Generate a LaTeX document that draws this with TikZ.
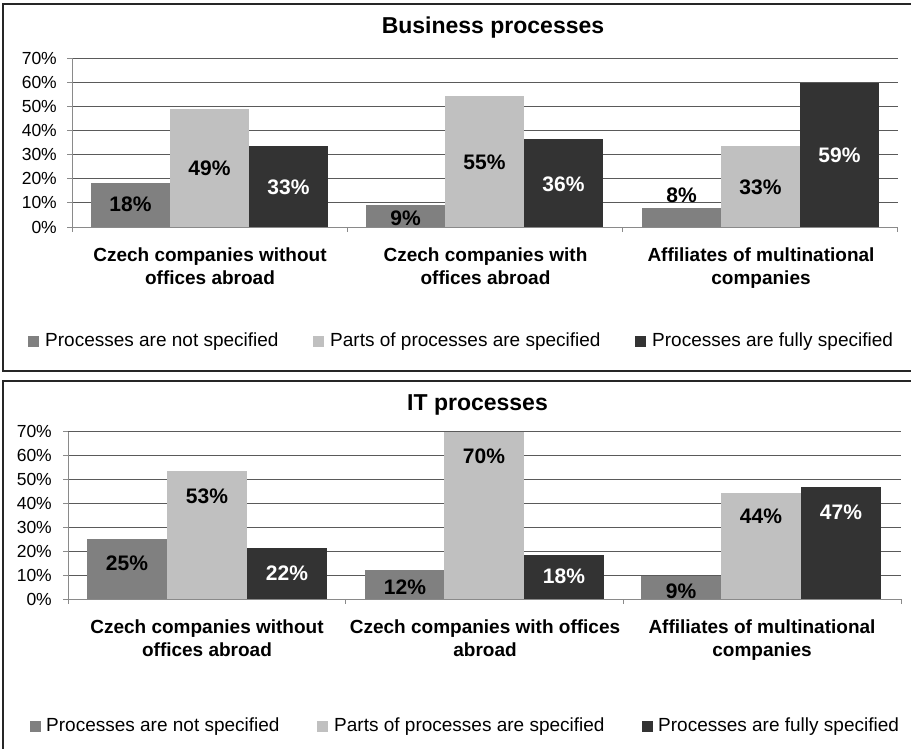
\documentclass[tikz,border=0pt]{standalone}
\usepackage{fontspec}
\setmainfont{Liberation Sans}
\usetikzlibrary{calc}

\definecolor{barA}{HTML}{808080}
\definecolor{barB}{HTML}{C0C0C0}
\definecolor{barC}{HTML}{333333}
\definecolor{gridcol}{HTML}{5A5A5A}
\definecolor{axiscol}{HTML}{8A8A8A}
\definecolor{framecol}{HTML}{262626}

\def\TopX{72}
\def\TopY{227}
\def\TopEnd{898}
\def\TopStep{24.1}
\def\TopCat{275.33}
\def\TopW{79}
\def\BotX{68}
\def\BotY{599}
\def\BotEnd{901}
\def\BotStep{23.9}
\def\BotCat{277.67}
\def\BotW{80}

\tikzset{
  frameline/.style={draw=framecol,line width=2pt},
  gridline/.style={draw=gridcol,line width=0.9pt},
  axisline/.style={draw=axiscol,line width=1pt},
  ticklab/.style={anchor=east,inner sep=0pt,font=\fontsize{17.5}{18}\selectfont},
  titlelab/.style={anchor=base,inner sep=0pt,font=\bfseries\fontsize{23}{24}\selectfont},
  catlab/.style={anchor=north,align=center,inner sep=0pt,font=\bfseries\fontsize{19}{23.5}\selectfont},
  vallab/.style={inner sep=0pt,font=\bfseries\fontsize{21}{22}\selectfont},
  legbox/.style={anchor=south west,minimum size=11pt,inner sep=0pt},
  leglab/.style={anchor=base west,inner sep=0pt,font=\fontsize{19}{20}\selectfont},
}

\begin{document}
\begin{tikzpicture}[x=1pt,y=-1pt]
\useasboundingbox (0,0) rectangle (911,749);
\fill[white] (0,0) rectangle (911,749);

% ---- Business processes
\draw[frameline] (913,4) -- (3,4) -- (3,371) -- (913,371);
\node[titlelab] (toptitle) at (493,33.3) {Business processes};
\foreach \g [evaluate=\g as \p using int(\g*10)] in {1,...,7}
  \draw[gridline] (\TopX,\TopY-\g*\TopStep) -- (\TopEnd,\TopY-\g*\TopStep);
\foreach \bx/\bh/\bl/\ly/\bc/\tc [count=\k] in {
    91/18.3/18/204/barA/black, 170/49/49/168/barB/black, 249/33.5/33/187/barC/white,
    366/9/9/218/barA/black, 445/54.5/55/162/barB/black, 524/36.5/36/184/barC/white,
    642/7.8/8/195/barA/black, 721/33.5/33/187/barB/black, 800/59.8/59/155/barC/white}
{
  \fill[\bc] (\bx,\TopY) rectangle ++(\TopW,-\bh*\TopStep/10);
  \node[vallab,text=\tc] (topval\k) at (\bx+\TopW/2,\ly) {\bl\%};
}
\draw[axisline] (\TopX,\TopY-7*\TopStep) -- (\TopX,\TopY) -- (\TopEnd,\TopY);
\foreach \g [evaluate=\g as \p using int(\g*10)] in {0,...,7}{
  \draw[axisline] (\TopX-5,\TopY-\g*\TopStep) -- (\TopX,\TopY-\g*\TopStep);
  \node[ticklab] (topytick\g) at (57,\TopY-\g*\TopStep) {\p\%};
}
\foreach \c in {0,...,3}
  \draw[axisline] (\TopX+\c*\TopCat,\TopY) -- (\TopX+\c*\TopCat,\TopY+5);
\node[catlab] (topcatA) at (210,247.5) {Czech companies without\\offices abroad};
\node[catlab] (topcatB) at (485.5,247.5) {Czech companies with\\offices abroad};
\node[catlab] (topcatC) at (761,247.5) {Affiliates of multinational\\companies};
% legend
\node[legbox,fill=barA] (topkeyA) at (28,346.7) {};
\node[leglab] (toplegA) at (45,346.7) {Processes are not specified};
\node[legbox,fill=barB] (topkeyB) at (313,346.7) {};
\node[leglab] (toplegB) at (330,346.7) {Parts of processes are specified};
\node[legbox,fill=barC] (topkeyC) at (635,346.7) {};
\node[leglab] (toplegC) at (652,346.7) {Processes are fully specified};

% ---- IT processes
\draw[frameline] (913,381) -- (3,381) -- (3,751);
\node[titlelab] (bottitle) at (477.5,410) {IT processes};
\foreach \g in {1,...,7}
  \draw[gridline] (\BotX,\BotY-\g*\BotStep) -- (\BotEnd,\BotY-\g*\BotStep);
\foreach \bx/\bh/\bl/\ly/\bc/\tc [count=\k] in {
    87/25.1/25/563/barA/black, 167/53.6/53/496/barB/black, 247/21.3/22/573/barC/white,
    365/12.1/12/587/barA/black, 444/70/70/456/barB/black, 524/18.4/18/576/barC/white,
    641/9.6/9/591/barA/black, 721/44.4/44/516/barB/black, 801/46.9/47/512/barC/white}
{
  \fill[\bc] (\bx,\BotY) rectangle ++(\BotW,-\bh*\BotStep/10);
  \node[vallab,text=\tc] (botval\k) at (\bx+\BotW/2,\ly) {\bl\%};
}
\draw[axisline] (\BotX,\BotY-7*\BotStep) -- (\BotX,\BotY) -- (\BotEnd,\BotY);
\foreach \g [evaluate=\g as \p using int(\g*10)] in {0,...,7}{
  \draw[axisline] (\BotX-5,\BotY-\g*\BotStep) -- (\BotX,\BotY-\g*\BotStep);
  \node[ticklab] (botytick\g) at (52,\BotY-\g*\BotStep) {\p\%};
}
\foreach \c in {0,...,3}
  \draw[axisline] (\BotX+\c*\BotCat,\BotY) -- (\BotX+\c*\BotCat,\BotY+5);
\node[catlab] (botcatA) at (207,619.5) {Czech companies without\\offices abroad};
\node[catlab] (botcatB) at (485,619.5) {Czech companies with offices\\abroad};
\node[catlab] (botcatC) at (762,619.5) {Affiliates of multinational\\companies};
% legend
\node[legbox,fill=barA] (botkeyA) at (30,731.7) {};
\node[leglab] (botlegA) at (46,731.7) {Processes are not specified};
\node[legbox,fill=barB] (botkeyB) at (317,731.7) {};
\node[leglab] (botlegB) at (334,731.7) {Parts of processes are specified};
\node[legbox,fill=barC] (botkeyC) at (642,731.7) {};
\node[leglab] (botlegC) at (658,731.7) {Processes are fully specified};
\end{tikzpicture}
\end{document}
